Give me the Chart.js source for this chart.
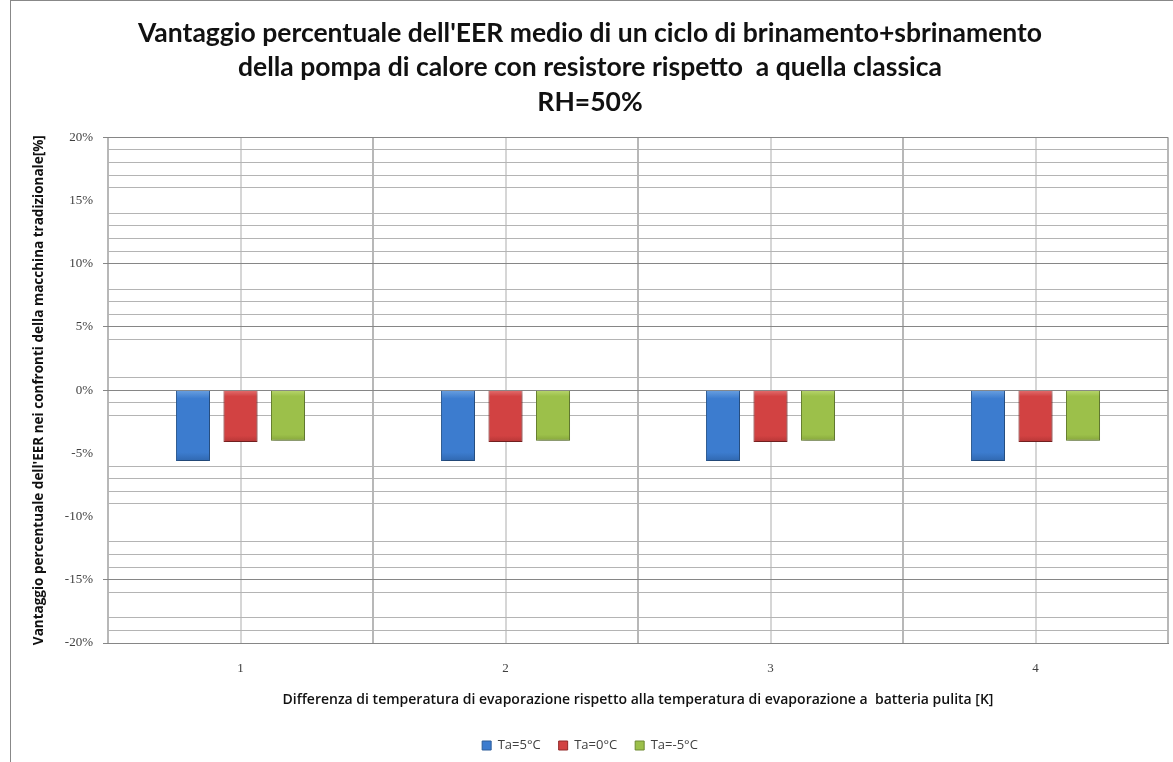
<!DOCTYPE html>
<html lang="it">
<head>
  <meta charset="UTF-8" />
  <title>Vantaggio percentuale EER</title>
  <script src="https://cdn.jsdelivr.net/npm/chart.js"></script>
  <style>
    html, body { margin: 0; padding: 0; background: #fff; overflow: hidden; }
    #box { position: relative; width: 1173px; height: 762px; }
    #cornice { position: absolute; left: 10px; top: 0; width: 2000px; height: 2000px;
               border-left: 1px solid #888; border-top: 1px solid #888; pointer-events: none; }
  </style>
</head>
<body>
  <div id="box">
    <canvas id="grafico" width="1173" height="762"></canvas>
    <div id="cornice"></div>
  </div>

  <script>
    // dati
    const categorie = ['1', '2', '3', '4'];
    const serieTa5 = [-5.6, -5.6, -5.6, -5.6];
    const serieTa0 = [-4.1, -4.1, -4.1, -4.1];
    const serieTaM5 = [-4.0, -4.0, -4.0, -4.0];

    // tacche asse y (etichette ogni 5%) e linee secondarie visibili
    const tickEtichette = [20, 15, 10, 5, 0, -5, -10, -15, -20];
    const lineePrincipali = [20, 10, 5, 0, -15, -20];
    const lineeSecondarie = [19, 18, 17, 16, 14, 13, 12, 11, 8, 7, 6, 4, 1, -1, -2,
                             -6, -7, -8, -9, -12, -13, -14, -16, -18, -19];

    const tuttiTick = [...new Set([...tickEtichette, ...lineeSecondarie])].sort((a, b) => a - b);

    // sfumatura verticale tipo "bisello" di Excel
    function sfumatura(chiaro, medio, scuro) {
      return (c) => {
        const { chart } = c;
        const y = chart.scales.y;
        if (!chart.chartArea || !y) return medio;
        const v = c.raw !== undefined ? c.raw : 0;
        const y0 = y.getPixelForValue(0);
        const y1 = y.getPixelForValue(v);
        if (!isFinite(y0) || !isFinite(y1) || y0 === y1) return medio;
        const g = chart.ctx.createLinearGradient(0, y0, 0, y1);
        g.addColorStop(0, chiaro);
        g.addColorStop(0.12, medio);
        g.addColorStop(0.88, medio);
        g.addColorStop(1, scuro);
        return g;
      };
    }

    // ombra leggera sotto le barre
    const ombra = {
      id: 'ombra',
      beforeDatasetsDraw(chart) {
        const c = chart.ctx;
        c.save();
        c.shadowColor = 'rgba(0,0,0,0.3)';
        c.shadowBlur = 4;
        c.shadowOffsetX = 1;
        c.shadowOffsetY = 2;
      },
      afterDatasetsDraw(chart) { chart.ctx.restore(); }
    };

    const ctx = document.getElementById('grafico').getContext('2d');
    new Chart(ctx, {
      type: 'bar',
      data: {
        labels: categorie,
        datasets: [
          { label: 'Ta=5°C', data: serieTa5, backgroundColor: sfumatura('#6aa0e0', '#3c7ccf', '#3068b0'),
            borderColor: '#2c5d9a', borderWidth: 1 },
          { label: 'Ta=0°C', data: serieTa0, backgroundColor: sfumatura('#e27070', '#d24242', '#b53636'),
            borderColor: '#922828', borderWidth: 1 },
          { label: 'Ta=-5°C', data: serieTaM5, backgroundColor: sfumatura('#b8d66e', '#9cc04a', '#86a63c'),
            borderColor: '#6e8a32', borderWidth: 1 }
        ]
      },
      plugins: [ombra],
      options: {
        responsive: false,
        animation: false,
        datasets: { bar: { categoryPercentage: 0.538, barPercentage: 0.716 } },
        layout: { padding: { left: 12, right: 5, top: 0, bottom: 0 } },
        plugins: {
          title: {
            display: true,
            text: [
              "Vantaggio percentuale dell'EER medio di un ciclo di brinamento+sbrinamento",
              'della pompa di calore con resistore rispetto  a quella classica',
              'RH=50%'
            ],
            color: '#111',
            font: { family: 'Lato', size: 26.5, weight: 'bold', lineHeight: 1.3 },
            padding: { top: 16, bottom: 18 }
          },
          legend: {
            position: 'bottom',
            labels: {
              boxWidth: 9, boxHeight: 9, padding: 18,
              color: '#404040',
              font: { family: 'Open Sans', size: 13 },
              generateLabels(chart) {
                const colori = ['#3c7ccf', '#d24242', '#9cc04a'];
                return chart.data.datasets.map((d, i) => ({
                  text: d.label,
                  fillStyle: colori[i],
                  strokeStyle: d.borderColor,
                  lineWidth: 1,
                  fontColor: '#404040',
                  hidden: false,
                  datasetIndex: i
                }));
              }
            }
          },
          tooltip: { enabled: false }
        },
        scales: {
          x: {
            offset: true,
            grid: {
              offset: true,
              drawTicks: false,
              color: '#b8b8b8',
              lineWidth: 2
            },
            border: { display: true, color: '#868686', width: 1 },
            ticks: {
              padding: 18,
              color: '#404040',
              font: { family: 'Liberation Serif', size: 13 }
            },
            title: {
              display: true,
              text: 'Differenza di temperatura di evaporazione rispetto alla temperatura di evaporazione a  batteria pulita [K]',
              color: '#111',
              font: { family: 'Open Sans', size: 14, weight: '600' },
              padding: { top: 0, bottom: 13 }
            },
            afterFit(scale) { scale.height = 78; }
          },
          x2: {
            type: 'category',
            labels: categorie,
            position: 'bottom',
            offset: true,
            grid: { offset: false, drawTicks: false, color: '#d6d6d6', lineWidth: 2 },
            border: { display: false },
            ticks: { display: false },
            afterFit(scale) { scale.height = 0; }
          },
          y: {
            min: -20,
            max: 20,
            afterBuildTicks(scale) {
              scale.ticks = tuttiTick.map(v => ({ value: v }));
            },
            grid: {
              color: c => lineePrincipali.includes(c.tick.value) ? '#868686'
                        : lineeSecondarie.includes(c.tick.value) ? '#b4b4b4' : 'rgba(0,0,0,0)',
              tickColor: c => lineePrincipali.includes(c.tick.value) ? '#868686' : 'rgba(0,0,0,0)',
              tickLength: 5,
              lineWidth: 1
            },
            border: { display: false },
            ticks: {
              autoSkip: false,
              padding: 10,
              color: '#404040',
              font: { family: 'Liberation Serif', size: 13 },
              callback: v => tickEtichette.includes(v) ? v + '%' : ''
            },
            title: {
              display: true,
              text: "Vantaggio percentuale dell'EER nei confronti della macchina tradizionale[%]",
              color: '#111',
              font: { family: 'Open Sans', size: 13.5, weight: 'bold' },
              padding: { top: 19, bottom: 0 }
            },
            afterFit(scale) { scale.width = 96; }
          }
        }
      }
    });
  </script>
</body>
</html>
